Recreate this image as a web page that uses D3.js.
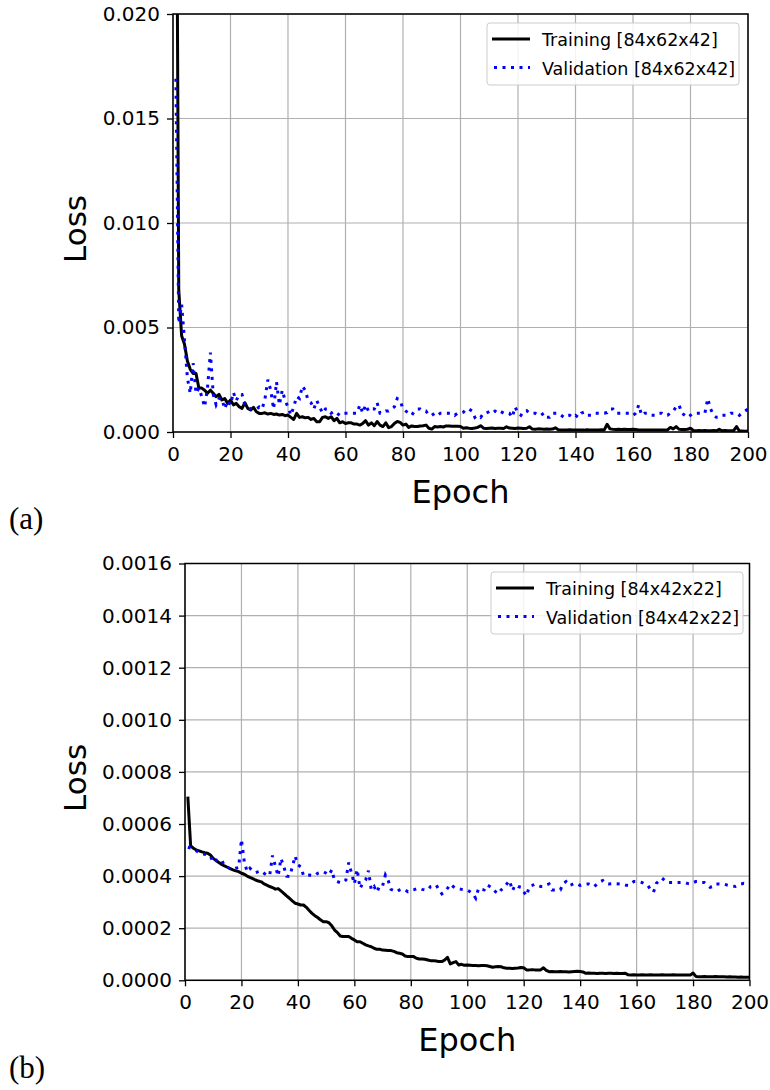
<!DOCTYPE html>
<html><head><meta charset="utf-8">
<script src="https://cdn.jsdelivr.net/npm/d3@7"></script>
<style>
html,body{margin:0;padding:0;background:#fff;}
svg{display:block;}
text{font-family:"DejaVu Sans",sans-serif;}
</style></head>
<body>
<script>
// ---------- DATA ----------
const epochs = d3.range(1, 201);
const xTicks = [0,20,40,60,80,100,120,140,160,180,200];
const yTicksA = [0,0.005,0.010,0.015,0.020];
const yTicksB = [0,0.0002,0.0004,0.0006,0.0008,0.0010,0.0012,0.0014,0.0016];
const legendA = ["Training [84x62x42]","Validation [84x62x42]"];
const legendB = ["Training [84x42x22]","Validation [84x42x22]"];
const panelLabels = ["(a)","(b)"];

const trainA = [
0.035,0.0068,0.0046,0.0042,0.0034,0.0030,0.0028,0.0028,0.0021,0.0021,
0.0020,0.00185,0.0020,0.00185,0.00169,0.0018,0.00153,0.0016,0.00137,0.00153,
0.0013,0.00137,0.00121,0.00113,0.0014,0.00113,0.00105,0.00118,0.00097,0.00089,
0.00089,0.00092,0.00086,0.00089,0.00084,0.00086,0.00081,0.00084,0.00078,0.00081,
0.0007,0.0006,0.00089,0.0007,0.00073,0.00068,0.0007,0.0006,0.00065,0.00049,
0.00049,0.0007,0.00073,0.00065,0.00073,0.00054,0.00065,0.00044,0.00049,0.00041,
0.00044,0.00044,0.00038,0.00038,0.00033,0.00041,0.00054,0.00033,0.00044,0.0003,
0.0005,0.00033,0.00026,0.00044,0.00021,0.00026,0.00041,0.0005,0.00046,0.00033,
0.00038,0.00022,0.00029,0.00026,0.00026,0.00029,0.0003,0.00033,0.00018,0.00014,
0.00026,0.00024,0.00026,0.00024,0.00029,0.00029,0.00027,0.00027,0.00027,0.00026,
0.00018,0.0002,0.00018,0.00017,0.00019,0.00022,0.0003,0.00018,0.00017,0.00018,
0.00019,0.00017,0.00018,0.00018,0.00017,0.00025,0.00019,0.00018,0.00017,0.00019,
0.00018,0.00017,0.00018,0.00025,0.00014,0.00013,0.00015,0.00014,0.00013,0.00014,
0.00013,0.00014,0.0002,0.00011,0.0001,0.00009,0.0001,0.00011,0.0001,0.00009,
0.0001,0.0001,0.00009,0.00011,0.0001,0.0001,0.00009,0.0001,0.00011,0.0001,
0.00037,0.00015,0.00013,0.00012,0.00013,0.00012,0.00013,0.00012,0.00012,0.00013,
0.00012,0.0001,0.0001,0.00009,0.0001,0.0001,0.00009,0.0001,0.0001,0.0001,
0.00009,0.0001,0.00022,0.00015,0.00026,0.00013,0.00012,0.00012,0.00013,0.00018,
0.00007,0.00006,0.00007,0.00006,0.00007,0.00006,0.00006,0.00007,0.00006,0.00013,
0.00006,0.00007,0.00006,0.00006,0.00007,0.00026,0.00005,0.00005,0.00004,0.00005];

const valA = [
0.0169,0.0052,0.0061,0.0044,0.0026,0.00185,0.0033,0.00185,0.0021,0.0017,
0.0012,0.0021,0.0038,0.0018,0.0013,0.0016,0.0016,0.0011,0.0015,0.0013,
0.0019,0.0015,0.0018,0.0018,0.0013,0.0012,0.0011,0.0011,0.0011,0.0012,
0.0011,0.0016,0.0025,0.0020,0.0011,0.0024,0.0013,0.0020,0.0015,0.0012,
0.0008,0.0012,0.0017,0.0016,0.0022,0.0020,0.0015,0.0014,0.0011,0.0015,
0.0012,0.0009,0.0011,0.0011,0.0009,0.0010,0.0009,0.0008,0.0009,0.0009,
0.0009,0.0009,0.0009,0.0009,0.0013,0.0009,0.0013,0.0010,0.0011,0.0011,
0.0014,0.0009,0.0009,0.0010,0.0010,0.0011,0.0012,0.0016,0.0015,0.0011,
0.0010,0.0009,0.0008,0.0010,0.0011,0.0011,0.0010,0.0010,0.0008,0.0008,
0.0009,0.0008,0.0009,0.0009,0.0009,0.0009,0.0009,0.0008,0.0009,0.0009,
0.00095,0.0011,0.0011,0.0010,0.0007,0.0008,0.0007,0.0009,0.0009,0.00098,
0.0009,0.0010,0.0009,0.00098,0.0009,0.0009,0.0009,0.0007,0.0012,0.0009,
0.0008,0.0010,0.00102,0.0009,0.0009,0.0009,0.0008,0.0008,0.0009,0.0007,
0.0007,0.0009,0.0009,0.0009,0.0008,0.0007,0.0008,0.0008,0.0007,0.0008,
0.0007,0.0009,0.00095,0.0008,0.0008,0.0008,0.0009,0.0009,0.0009,0.0009,
0.00093,0.0011,0.0011,0.0009,0.0009,0.0009,0.0009,0.0009,0.0009,0.0008,
0.0009,0.0013,0.0008,0.0009,0.0009,0.0008,0.0008,0.0008,0.0009,0.0009,
0.0008,0.0008,0.0009,0.0010,0.0012,0.0013,0.0009,0.0008,0.0007,0.0008,
0.0009,0.0009,0.0009,0.0009,0.0009,0.0016,0.0011,0.0008,0.0007,0.0007,
0.0008,0.0008,0.0008,0.0009,0.0009,0.0009,0.0008,0.0009,0.0010,0.0011];

const trainB = [
0.000705,0.000516,0.000507,0.0005,0.000497,0.000493,0.00049,0.000488,0.000481,0.000468,
0.00046,0.000452,0.000445,0.000439,0.000434,0.000429,0.000424,0.00042,0.000417,0.000411,
0.000407,0.0004,0.000395,0.00039,0.000385,0.000381,0.000378,0.00037,0.000365,0.00036,
0.000356,0.00035,0.000352,0.000343,0.000334,0.000324,0.000315,0.000305,0.000296,0.000293,
0.000289,0.000289,0.00028,0.000268,0.000257,0.000248,0.000241,0.000232,0.000225,0.000225,
0.000221,0.000209,0.000193,0.000183,0.00017,0.000168,0.000168,0.000168,0.000161,0.000155,
0.000148,0.000148,0.000142,0.000136,0.000132,0.000129,0.000123,0.000119,0.000119,0.000116,
0.000115,0.000114,0.000114,0.000111,0.000106,0.000104,0.000101,0.0000934,0.0000909,0.0000909,
0.0000909,0.0000845,0.000082,0.000082,0.0000806,0.000078,0.0000755,0.0000755,0.0000742,0.0000717,
0.0000717,0.000078,0.0000883,0.0000627,0.0000678,0.0000717,0.0000589,0.0000614,0.0000576,0.0000589,
0.000058,0.000057,0.000057,0.000056,0.000057,0.000057,0.000056,0.000053,0.00005,0.000052,
0.000053,0.000052,0.000048,0.000046,0.000046,0.000045,0.000046,0.000047,0.000049,0.000048,
0.00004,0.00004,0.000041,0.00004,0.00004,0.00004,0.000048,0.000038,0.000033,0.000034,
0.000033,0.000033,0.000034,0.000033,0.000033,0.000032,0.000033,0.000034,0.000035,0.000034,
0.000032,0.000027,0.000028,0.000027,0.000027,0.000026,0.000027,0.000027,0.000026,0.000027,
0.000027,0.000026,0.000027,0.000026,0.000026,0.000027,0.000021,0.00002,0.000021,0.00002,
0.00002,0.000021,0.00002,0.00002,0.000021,0.00002,0.00002,0.00002,0.000021,0.00002,
0.00002,0.00002,0.000021,0.00002,0.00002,0.00002,0.00002,0.00002,0.00002,0.000028,
0.000015,0.000014,0.000014,0.000015,0.000014,0.000014,0.000014,0.000015,0.000014,0.000014,
0.000014,0.000013,0.000014,0.000013,0.000013,0.000012,0.000013,0.000012,0.000012,0.000012];

const valB = [
0.000511,0.000508,0.0005,0.000497,0.00049,0.000485,0.000484,0.000481,0.000477,0.000452,
0.00046,0.000465,0.000462,0.000439,0.000434,0.000429,0.000426,0.00043,0.000433,0.000541,
0.000456,0.000417,0.00043,0.00042,0.000413,0.000417,0.00042,0.000411,0.000404,0.000402,
0.000479,0.000439,0.0004,0.000468,0.000436,0.0004,0.000398,0.000433,0.000477,0.000443,
0.000436,0.000402,0.000403,0.000404,0.000403,0.000402,0.000411,0.000415,0.000417,0.000411,
0.000404,0.000424,0.000383,0.000379,0.000375,0.000375,0.000385,0.000452,0.000411,0.00037,
0.000426,0.000353,0.000372,0.000385,0.000421,0.000347,0.00036,0.000338,0.000364,0.000362,
0.000404,0.000383,0.000349,0.000344,0.00034,0.000347,0.000351,0.000347,0.00034,0.000344,
0.000347,0.000351,0.000353,0.000349,0.000347,0.000347,0.00036,0.000362,0.000366,0.000347,
0.000332,0.00034,0.000353,0.000369,0.00036,0.000353,0.000351,0.000349,0.000348,0.000347,
0.00034,0.000332,0.000315,0.000353,0.000349,0.000347,0.000366,0.00036,0.000353,0.00034,
0.000332,0.000347,0.000357,0.00037,0.000383,0.000344,0.000366,0.00036,0.000357,0.00034,
0.000324,0.00036,0.000364,0.000369,0.000365,0.00036,0.00036,0.000366,0.00037,0.000347,
0.000347,0.000347,0.000347,0.000372,0.000379,0.000364,0.000367,0.000372,0.000369,0.000364,
0.000366,0.000369,0.00037,0.000365,0.00036,0.00037,0.000379,0.000383,0.000372,0.00037,
0.000371,0.000372,0.000371,0.00037,0.000369,0.000366,0.000364,0.000372,0.000379,0.000379,
0.000379,0.000375,0.000369,0.000364,0.000347,0.000338,0.000372,0.000383,0.000392,0.000383,
0.000375,0.000375,0.000375,0.000375,0.000375,0.000375,0.000375,0.000372,0.00037,0.000375,
0.000379,0.000379,0.000375,0.000375,0.000366,0.000357,0.00036,0.00037,0.00037,0.000369,
0.000369,0.000366,0.000364,0.000362,0.00036,0.000365,0.00037,0.000372,0.00037,0.000372];

// ---------- DRAW ----------
const W = 770, H = 1090;
const svg = d3.select("body").append("svg").attr("width", W).attr("height", H);

function panel(o) {
  const x = d3.scaleLinear().domain([0,200]).range([o.left, o.right]);
  const y = d3.scaleLinear().domain([0, o.ymax]).range([o.bottom, o.top]);
  const g = svg.append("g");
  const id = "clip" + o.key;
  svg.append("clipPath").attr("id", id).append("rect")
    .attr("x", o.left).attr("y", o.top).attr("width", o.right - o.left).attr("height", o.bottom - o.top);

  // grid
  g.append("g").selectAll("line").data(xTicks).join("line")
    .attr("x1", d => x(d)).attr("x2", d => x(d)).attr("y1", o.top).attr("y2", o.bottom)
    .attr("stroke", "#b0b0b0").attr("stroke-width", 1.2);
  g.append("g").selectAll("line").data(o.yTicks).join("line")
    .attr("y1", d => y(d)).attr("y2", d => y(d)).attr("x1", o.left).attr("x2", o.right)
    .attr("stroke", "#b0b0b0").attr("stroke-width", 1.2);

  const line = d3.line().x((d, i) => x(epochs[i])).y(d => y(d));
  const lg = g.append("g").attr("clip-path", `url(#${id})`);
  lg.append("path").datum(o.train).attr("d", line)
    .attr("fill", "none").attr("stroke", "#000").attr("stroke-width", 3).attr("stroke-linejoin", "round");
  lg.append("path").datum(o.val).attr("d", line)
    .attr("fill", "none").attr("stroke", "#0000ff").attr("stroke-width", 3)
    .attr("stroke-dasharray", "3,5.5");

  // axes
  const xa = g.append("g").attr("transform", `translate(0,${o.bottom})`)
    .call(d3.axisBottom(x).tickValues(xTicks).tickSize(6).tickPadding(9).tickFormat(d3.format("d")));
  const ya = g.append("g").attr("transform", `translate(${o.left},0)`)
    .call(d3.axisLeft(y).tickValues(o.yTicks).tickSize(6).tickPadding(7).tickFormat(d3.format(o.fmt)));
  [xa, ya].forEach(a => {
    a.select(".domain").remove();
    a.selectAll(".tick line").attr("stroke", "#000").attr("stroke-width", 1.3);
    a.selectAll(".tick text").attr("fill", "#000").style("font-size", "20px")
      .style("font-family", "'DejaVu Sans', sans-serif");
  });

  // frame
  g.append("rect").attr("x", o.left).attr("y", o.top)
    .attr("width", o.right - o.left).attr("height", o.bottom - o.top)
    .attr("fill", "none").attr("stroke", "#000").attr("stroke-width", 1.5);

  // axis labels
  g.append("text").attr("x", (o.left + o.right) / 2).attr("y", o.bottom + 71)
    .attr("text-anchor", "middle").style("font-size", "32px").text("Epoch");
  g.append("text").attr("transform", `translate(86,${(o.top + o.bottom) / 2 + 6}) rotate(-90)`)
    .attr("text-anchor", "middle").style("font-size", "31px").text("Loss");

  // legend
  const L = g.append("g");
  L.append("rect").attr("x", o.lx).attr("y", o.ly).attr("width", 252).attr("height", 62)
    .attr("rx", 3).attr("fill", "#fff").attr("fill-opacity", 0.85)
    .attr("stroke", "#cccccc").attr("stroke-width", 1);
  const items = [{t: o.legend[0], dash: null, c: "#000"}, {t: o.legend[1], dash: "3,5.5", c: "#0000ff"}];
  items.forEach((it, i) => {
    const yy = o.ly + 16 + i * 28.5;
    const ln = L.append("line").attr("x1", o.lx + 5).attr("x2", o.lx + 43).attr("y1", yy).attr("y2", yy)
      .attr("stroke", it.c).attr("stroke-width", 3);
    if (it.dash) ln.attr("stroke-dasharray", it.dash).attr("x1", o.lx + 7);
    L.append("text").attr("x", o.lx + 55).attr("y", yy + 7).style("font-size", "17.5px")
      .attr("fill", "#000").text(it.t);
  });

  svg.append("text").attr("x", 9).attr("y", o.plabelY)
    .style("font-family", "'Liberation Serif', 'DejaVu Serif', serif").style("font-size", "31px")
    .text(o.plabel);
}

panel({key:"A", left:173, right:748, top:14, bottom:432, ymax:0.02, yTicks:yTicksA, fmt:".3f",
  train:trainA, val:valA, legend:legendA, lx:487, ly:23, plabel:panelLabels[0], plabelY:529});
panel({key:"B", left:185, right:749.5, top:563.5, bottom:980.3, ymax:0.0016, yTicks:yTicksB, fmt:".4f",
  train:trainB, val:valB, legend:legendB, lx:491, ly:572, plabel:panelLabels[1], plabelY:1078});
</script>
</body></html>
